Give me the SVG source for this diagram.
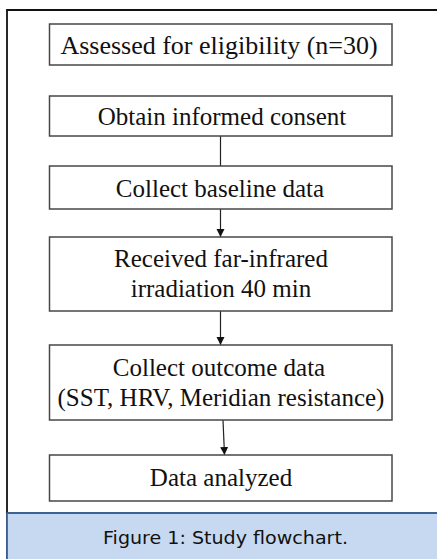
<svg xmlns="http://www.w3.org/2000/svg" width="437" height="559" viewBox="0 0 437 559">
  <style>
    .box { fill: #ffffff; stroke: #474747; stroke-width: 1.5; }
    .lbl { font-family: "Liberation Serif", "Times New Roman", serif; font-size: 25px; fill: #111111; text-anchor: middle; }
    .conn { stroke: #222222; stroke-width: 1.2; fill: none; }
    .cap { font-family: "DejaVu Sans", "Noto Sans", sans-serif; font-size: 18.5px; fill: #111111; text-anchor: middle; }
  </style>
  <defs>
    <marker id="arrow" viewBox="0 0 8 10" refX="8" refY="5" markerWidth="8" markerHeight="10" markerUnits="userSpaceOnUse" orient="auto">
      <path d="M0,1 L8,5 L0,9 Z" fill="#111111"/>
    </marker>
  </defs>

  <!-- page background and frame -->
  <rect x="0" y="0" width="437" height="559" fill="#ffffff"/>
  <path d="M7,559 L7,10 L437,10" fill="none" stroke="#111111" stroke-width="1.8"/>

  <!-- caption band -->
  <g id="caption">
    <rect x="7" y="513" width="430" height="46" fill="#c6d9f1"/>
    <line x1="7" y1="513" x2="437" y2="513" stroke="#3d6396" stroke-width="2"/>
    <line x1="7" y1="513" x2="7" y2="559" stroke="#3d6396" stroke-width="1.8"/>
    <text class="cap" x="225.5" y="544" textLength="245" lengthAdjust="spacingAndGlyphs">Figure 1: Study flowchart.</text>
  </g>

  <!-- connectors -->
  <g id="connectors">
    <line class="conn" x1="220.5" y1="136" x2="220.5" y2="166"/>
    <line class="conn" x1="220.5" y1="209" x2="220.5" y2="237" marker-end="url(#arrow)"/>
    <line class="conn" x1="220.5" y1="311" x2="220.5" y2="345" marker-end="url(#arrow)"/>
    <line class="conn" x1="223" y1="420" x2="224.5" y2="455" marker-end="url(#arrow)"/>
  </g>

  <!-- nodes -->
  <g id="eligibility">
    <rect class="box" x="49.5" y="24" width="342.5" height="41"/>
    <text class="lbl" x="219" y="54" style="font-size:26px">Assessed for eligibility (n=30)</text>
  </g>
  <g id="consent">
    <rect class="box" x="49.5" y="96" width="342.5" height="40"/>
    <text class="lbl" x="222" y="125">Obtain informed consent</text>
  </g>
  <g id="baseline">
    <rect class="box" x="49.5" y="166" width="342.5" height="43"/>
    <text class="lbl" x="220" y="197">Collect baseline data</text>
  </g>
  <g id="irradiation">
    <rect class="box" x="49.5" y="237" width="342.5" height="74"/>
    <text class="lbl" x="221" y="267">Received far-infrared</text>
    <text class="lbl" x="221" y="297">irradiation 40 min</text>
  </g>
  <g id="outcome">
    <rect class="box" x="49.5" y="345" width="342.5" height="75"/>
    <text class="lbl" x="219" y="376">Collect outcome data</text>
    <text class="lbl" x="221" y="406">(SST, HRV, Meridian resistance)</text>
  </g>
  <g id="analysis">
    <rect class="box" x="49.5" y="455" width="342.5" height="46"/>
    <text class="lbl" x="221" y="486">Data analyzed</text>
  </g>
</svg>
